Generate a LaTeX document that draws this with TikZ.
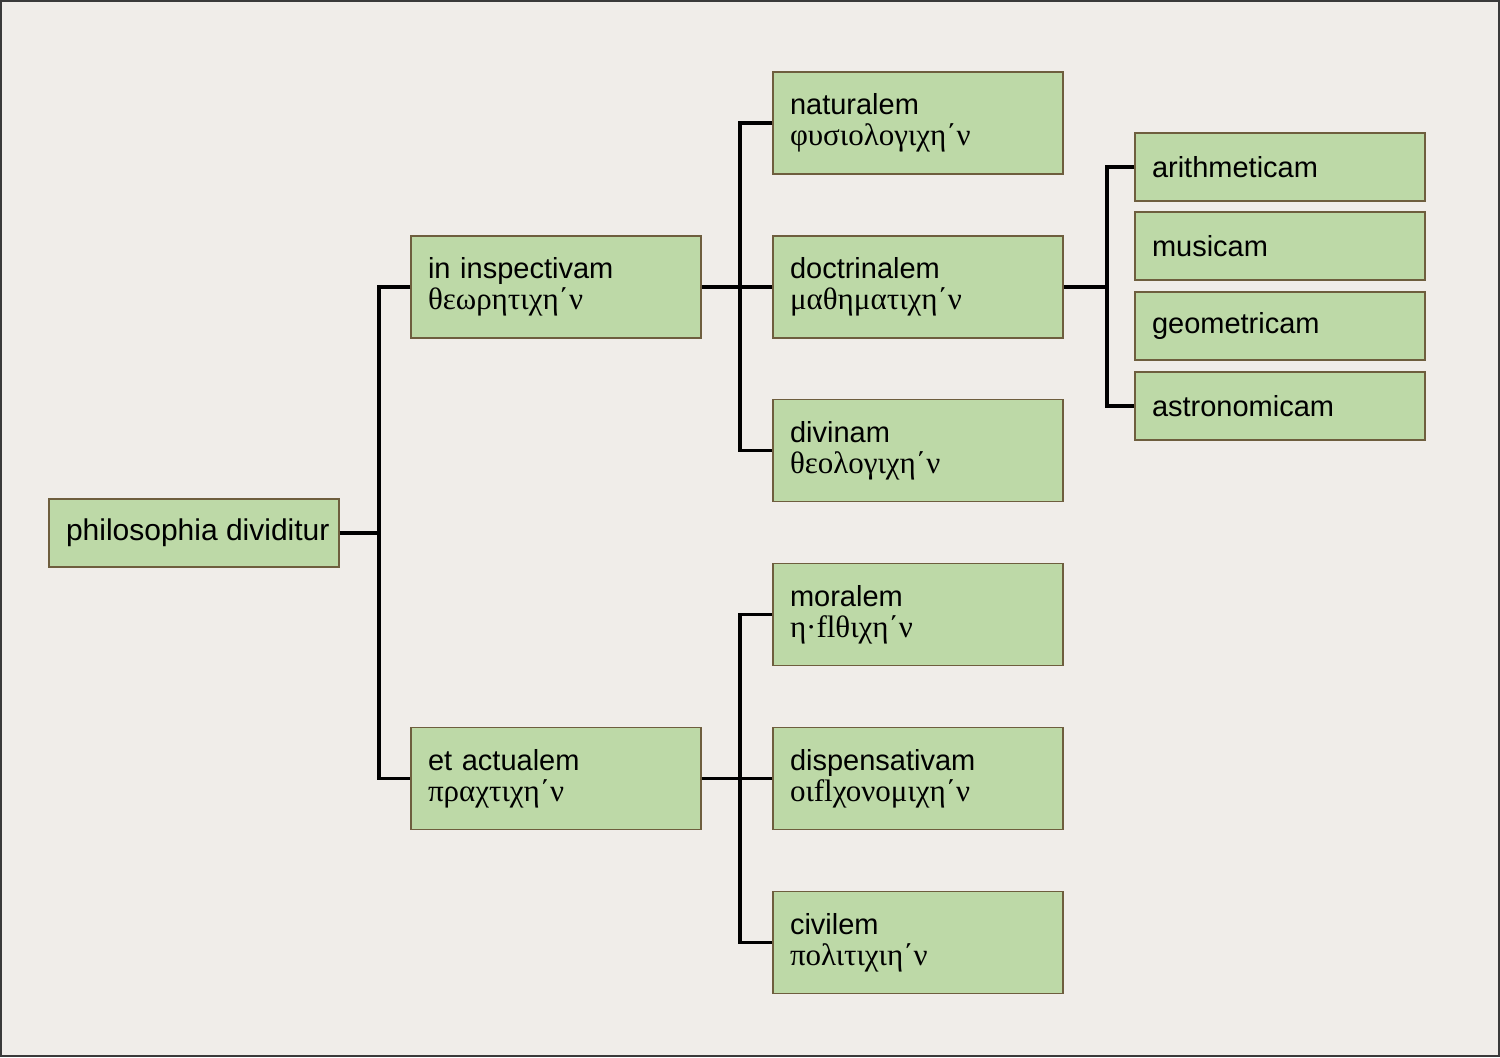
\documentclass[tikz,border=0pt]{standalone}
\usepackage{fontspec}
\setmainfont{Liberation Sans}
\newfontfamily\grk{Liberation Serif}
\definecolor{bgcol}{HTML}{F0EDE9}
\definecolor{boxfill}{HTML}{BDD9A7}
\definecolor{boxedge}{HTML}{6E5E3E}
\definecolor{framecol}{HTML}{3A3A3A}
\newcommand{\gk}[1]{{\grk\fontsize{15.5}{15.5}\selectfont #1}}
\tikzset{
  box/.style={draw=boxedge, fill=boxfill, line width=0.6pt,
    inner xsep=8.5pt, inner ysep=0pt, align=left, anchor=center,
    font=\fontsize{14.5}{15.5}\selectfont},
  twoline/.style={box, text width=128pt, minimum height=51pt},
  oneline/.style={box, text width=128pt, minimum height=34pt},
  rootbox/.style={box, minimum height=34pt, font=\fontsize{15}{15.5}\selectfont},
  conn/.style={draw=black, line width=1.8pt, line join=miter}
}
\begin{document}
\begin{tikzpicture}[x=0.5pt, y=-0.5pt]
\fill[bgcol] (0,0) rectangle (1500,1057);
\useasboundingbox (0,0) rectangle (1500,1057);
\draw[framecol, line width=1pt] (1,1) rectangle (1499,1056);

\node[rootbox] (root) at (194,533) {\makebox[128pt][l]{philosophia dividitur}};
\node[twoline] (insp) at (556,287) {in inspectivam\\\gk{θεωρητιχη΄ν}};
\node[twoline] (act) at (556,778.5) {et actualem\\\gk{πραχτιχη΄ν}};
\node[twoline] (nat) at (918,123) {naturalem\\\gk{φυσιολογιχη΄ν}};
\node[twoline] (doc) at (918,287) {doctrinalem\\\gk{μαθηματιχη΄ν}};
\node[twoline] (div) at (918,450.5) {divinam\\\gk{θεολογιχη΄ν}};
\node[twoline] (mor) at (918,614.5) {moralem\\\gk{η·flθιχη΄ν}};
\node[twoline] (disp) at (918,778.5) {dispensativam\\\gk{οιflχονομιχη΄ν}};
\node[twoline] (civ) at (918,942.5) {civilem\\\gk{πολιτιχιη΄ν}};
\node[oneline] (ari) at (1280,167) {arithmeticam};
\node[oneline] (mus) at (1280,246) {musicam};
\node[oneline] (geo) at (1280,326) {geometricam};
\node[oneline] (ast) at (1280,406) {astronomicam};

\coordinate (t1) at (379,533);
\coordinate (t2) at (740,287);
\coordinate (t3) at (740,778.5);
\coordinate (t4) at (1107,287);

\draw[conn] (root.east) -- (t1);
\draw[conn] (insp.west) -| (t1) |- (act.west);
\draw[conn] (insp.east) -- (t2);
\draw[conn] (nat.west) -| (t2) |- (div.west);
\draw[conn] (doc.west) -- (t2);
\draw[conn] (act.east) -- (t3);
\draw[conn] (mor.west) -| (t3) |- (civ.west);
\draw[conn] (disp.west) -- (t3);
\draw[conn] (doc.east) -- (t4);
\draw[conn] (ari.west) -| (t4) |- (ast.west);
\end{tikzpicture}
\end{document}
